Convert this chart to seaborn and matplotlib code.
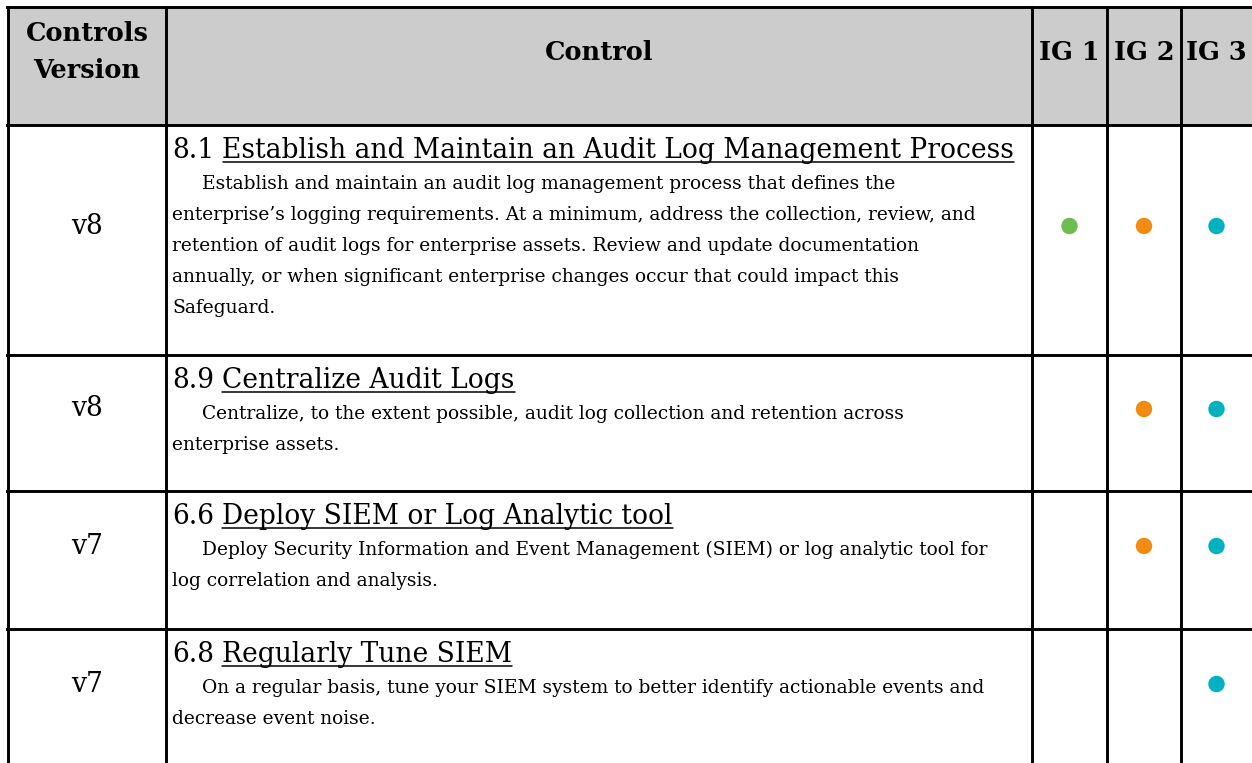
import numpy as np
import pandas as pd
import matplotlib
matplotlib.use('Agg')
import matplotlib.pyplot as plt
import matplotlib.patches as mpatches
import seaborn as sns

# ── Data ────────────────────────────────────────────────────
versions = ['v8', 'v8', 'v7', 'v7']
control_ids = ['8.1', '8.9', '6.6', '6.8']
control_titles = [
    'Establish and Maintain an Audit Log Management Process',
    'Centralize Audit Logs',
    'Deploy SIEM or Log Analytic tool',
    'Regularly Tune SIEM',
]
descriptions = [
    ['Establish and maintain an audit log management process that defines the',
     'enterprise\u2019s logging requirements. At a minimum, address the collection, review, and',
     'retention of audit logs for enterprise assets. Review and update documentation',
     'annually, or when significant enterprise changes occur that could impact this',
     'Safeguard.'],
    ['Centralize, to the extent possible, audit log collection and retention across',
     'enterprise assets.'],
    ['Deploy Security Information and Event Management (SIEM) or log analytic tool for',
     'log correlation and analysis.'],
    ['On a regular basis, tune your SIEM system to better identify actionable events and',
     'decrease event noise.'],
]
ig_labels = ['IG 1', 'IG 2', 'IG 3']
ig1 = [True, False, False, False]
ig2 = [True, True, True, False]
ig3 = [True, True, True, True]
header_version = 'Controls\nVersion'
header_control = 'Control'

IG_COLORS = {'IG 1': '#6DBE51', 'IG 2': '#F28B12', 'IG 3': '#00B2C0'}
HEADER_BG = '#CCCCCC'

# ── Layout (pixels) ─────────────────────────────────────────
W, H = 1252, 763
col_edges = [8, 166, 1032, 1107, 1181, 1252]
row_edges = [7, 125, 355, 491, 629, 767]
TEXT_X = 172
INDENT = 30
LINE_PITCH = 31

sns.set_theme(style='white')
plt.rcParams['font.family'] = ['DejaVu Serif']

fig = plt.figure(figsize=(W / 100, H / 100), dpi=100, facecolor='white')
ax = fig.add_axes([0, 0, 1, 1])
ax.set_xlim(0, W)
ax.set_ylim(H, 0)
ax.axis('off')
renderer = fig.canvas.get_renderer()


def text_width(s, size, weight='normal'):
    t = ax.text(0, 0, s, fontsize=size, fontweight=weight)
    w = t.get_window_extent(renderer).width
    t.remove()
    return w


def fit_size(s, target, weight='normal'):
    return 10 * target / text_width(s, 10, weight)


title_size = fit_size(control_ids[0] + ' ' + control_titles[0], 843)
desc_size = fit_size(descriptions[0][1], 813)
head_size = fit_size('Controls', 123, 'bold')

# header background
ax.add_patch(mpatches.Rectangle((col_edges[0], row_edges[0]), W - col_edges[0],
                                row_edges[1] - row_edges[0], facecolor=HEADER_BG,
                                edgecolor='none', zorder=0))


def content_mid(i):
    return (row_edges[i] + row_edges[i + 1] - 28) / 2


# header texts
ax.text(sum(col_edges[0:2]) / 2, content_mid(0), header_version, ha='center', va='center',
        fontsize=head_size, fontweight='bold', linespacing=1.6, color='black')
ax.text(sum(col_edges[1:3]) / 2, content_mid(0), header_control, ha='center', va='center',
        fontsize=head_size, fontweight='bold', color='black')
for j, lab in enumerate(ig_labels):
    ax.text((col_edges[2 + j] + col_edges[3 + j]) / 2, content_mid(0), lab,
            ha='center', va='center', fontsize=head_size, fontweight='bold', color='black')

space_w = text_width('a a', title_size) - text_width('aa', title_size)

# body rows
for i in range(len(versions)):
    top = row_edges[i + 1]
    mid = content_mid(i + 1)
    ax.text(sum(col_edges[0:2]) / 2, mid, versions[i], ha='center', va='center',
            fontsize=title_size, color='black')

    base = top + 33
    ax.text(TEXT_X, base, control_ids[i], ha='left', va='baseline',
            fontsize=title_size, color='black')
    tx = TEXT_X + text_width(control_ids[i], title_size) + space_w
    ax.text(tx, base, control_titles[i], ha='left', va='baseline',
            fontsize=title_size, color='black')
    tw = text_width(control_titles[i], title_size)
    ax.plot([tx, tx + tw], [base + 4, base + 4], color='black', lw=1.1)

    for k, line in enumerate(descriptions[i]):
        ax.text(TEXT_X + (INDENT if k == 0 else 0), top + 64 + k * LINE_PITCH, line,
                ha='left', va='baseline', fontsize=desc_size, color='black')

# implementation-group dots
dots = []
for i, flags in enumerate(zip(ig1, ig2, ig3)):
    for j, on in enumerate(flags):
        if on:
            dots.append({'x': (col_edges[2 + j] + col_edges[3 + j]) / 2,
                         'y': content_mid(i + 1), 'ig': ig_labels[j]})
dots = pd.DataFrame(dots)
sns.scatterplot(data=dots, x='x', y='y', hue='ig', palette=IG_COLORS, s=140,
                edgecolor='none', legend=False, ax=ax, zorder=3)

# grid lines
for y in row_edges[:-1]:
    ax.plot([col_edges[0] - 1, W], [y, y], color='black', lw=2.1, solid_capstyle='projecting')
for x in col_edges[:-1]:
    ax.plot([x, x], [row_edges[0], H], color='black', lw=2.1, solid_capstyle='projecting')

ax.set_xlim(0, W)
ax.set_ylim(H, 0)
ax.axis('off')

fig.savefig('out.png', dpi=100, facecolor='white')
